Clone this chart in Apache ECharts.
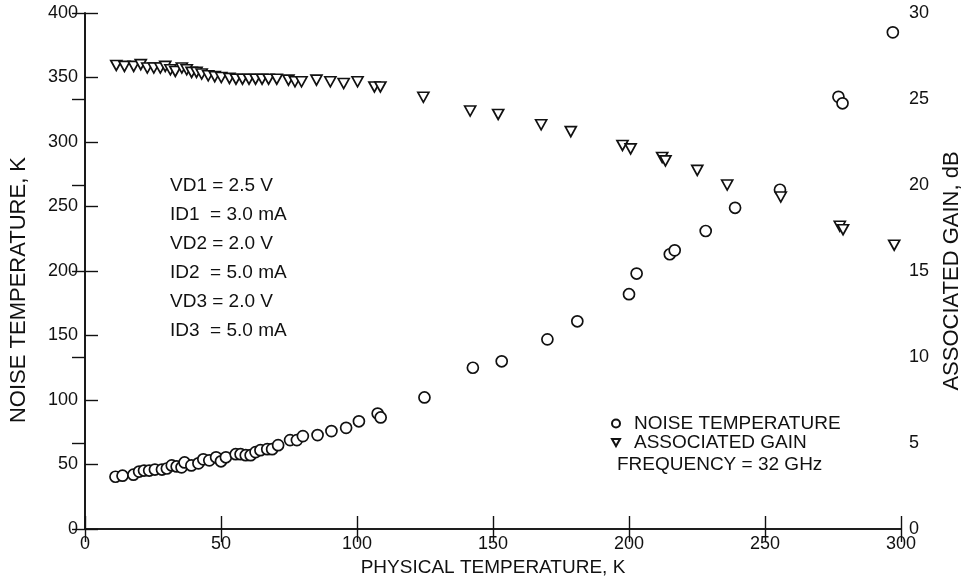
<!DOCTYPE html>
<html>
<head>
<meta charset="utf-8">
<script src="https://cdn.jsdelivr.net/npm/echarts@6/dist/echarts.min.js"></script>
<style>
  html, body { margin: 0; padding: 0; background: #fff; }
  #main { width: 971px; height: 588px; }
</style>
</head>
<body>
<div id="main"></div>
<script>
var FONT = '"Liberation Sans", Arial, sans-serif';
var INK = '#111';

// physical temperature (K) vs noise temperature (K)
var noiseT = [11.2, 13.8, 17.8, 19.9, 21.7, 23.6, 25.7, 28.3, 30.1, 31.9, 33.7, 35.5, 36.6, 39.1, 41.7, 43.5,
    45.7, 48.2, 50.0, 51.8, 55.4, 57.2, 59.1, 60.9, 62.7, 64.5, 67.0, 68.8, 71.0, 75.4, 77.9, 80.1, 85.5,
    90.6, 96.0, 100.7, 107.6, 108.7, 124.8, 142.6, 153.2, 170.0, 181.0, 200.0, 202.8, 215.0, 216.8, 228.2,
    239.0, 255.5, 277.0, 278.5, 297.0];
var noiseK = [40.5, 41.3, 42.1, 44.5, 45.3, 45.3, 46.1, 46.1, 46.9, 49.3, 48.5, 47.8, 51.6, 49.3, 50.9, 54.0,
    53.2, 55.6, 52.5, 55.6, 58.0, 58.0, 57.2, 57.2, 59.6, 61.1, 61.9, 61.9, 65.0, 68.9, 68.9, 72.0, 72.8,
    75.9, 78.4, 83.5, 89.5, 86.5, 102, 125, 130, 147, 161, 182, 198, 213, 216, 231,
    249, 263, 335, 330, 385];

// physical temperature (K) vs associated gain (dB)
var gainT = [11.5, 14.5, 17.9, 20.5, 22.9, 25.3, 27.7, 29.5, 31.4, 33.2, 35.6, 37.4, 39.2, 41.0, 42.9, 45.3,
    47.7, 50.1, 53.1, 55.5, 57.9, 60.3, 62.7, 65.1, 67.5, 70.5, 74.8, 77.2, 79.6, 85.1, 90.2, 95.1, 100.2,
    106.4, 108.6, 124.4, 141.6, 151.9, 167.7, 178.6, 197.6, 200.6, 212.2, 213.4, 225.1, 236.1, 255.8,
    277.5, 278.7, 297.5];
var gainDb = [26.95, 26.9, 26.9, 27.0, 26.8, 26.8, 26.8, 26.9, 26.7, 26.6, 26.8, 26.7, 26.55, 26.55, 26.45, 26.35,
    26.3, 26.25, 26.2, 26.15, 26.15, 26.15, 26.15, 26.15, 26.15, 26.15, 26.1, 26.0, 26.0, 26.1, 26.0, 25.9, 26.0,
    25.7, 25.7, 25.1, 24.3, 24.1, 23.5, 23.1, 22.3, 22.1, 21.6, 21.4, 20.85, 20.0, 19.3,
    17.6, 17.4, 16.5];

var biasLines = ['VD1 = 2.5 V', 'ID1  = 3.0 mA', 'VD2 = 2.0 V', 'ID2  = 5.0 mA', 'VD3 = 2.0 V', 'ID3  = 5.0 mA'];
var freqText = 'FREQUENCY = 32 GHz';

function pairs(xs, ys) {
    return xs.map(function (x, i) { return [x, ys[i]]; });
}

var downTriangle = 'path://M0,0 L10,0 L5,9 Z';

var chart = echarts.init(document.getElementById('main'), null, { renderer: 'canvas' });

var axisCommon = {
    axisLine: { show: true, lineStyle: { color: INK, width: 1.6 } },
    axisTick: { show: true, inside: true, length: 13, lineStyle: { color: INK, width: 1.4 } },
    splitLine: { show: false },
    axisLabel: { color: INK, fontSize: 18, fontFamily: FONT },
    nameTextStyle: { color: INK, fontSize: 19, fontFamily: FONT }
};

var option = {
    backgroundColor: '#fff',
    animation: false,
    grid: { left: 79, right: 62, top: 13, bottom: 59, containLabel: false },
    legend: {
        orient: 'vertical',
        left: 606,
        top: 409,
        itemWidth: 8,
        itemHeight: 8,
        itemGap: 0,
        textStyle: { color: INK, fontSize: 19, fontFamily: FONT, lineHeight: 17, padding: [0, 0, 0, 9] },
        data: ['NOISE TEMPERATURE', 'ASSOCIATED GAIN']
    },
    xAxis: [
        Object.assign({}, axisCommon, {
            type: 'value', position: 'bottom', min: 0, max: 300, interval: 50,
            name: 'PHYSICAL TEMPERATURE, K', nameLocation: 'middle', nameGap: 23,
            axisLabel: Object.assign({}, axisCommon.axisLabel, { margin: 6 })
        }),
        Object.assign({}, axisCommon, {
            type: 'value', position: 'top', min: 0, max: 300, interval: 50,
            axisLabel: { show: false }
        })
    ],
    yAxis: [
        Object.assign({}, axisCommon, {
            type: 'value', position: 'left', min: 0, max: 400, interval: 50,
            name: 'NOISE TEMPERATURE, K', nameLocation: 'middle', nameGap: 55,
            nameTextStyle: Object.assign({}, axisCommon.nameTextStyle, { fontSize: 22, padding: [0, 38, 0, 0] }),
            axisLabel: Object.assign({}, axisCommon.axisLabel, { margin: 7 })
        }),
        Object.assign({}, axisCommon, {
            type: 'value', position: 'right', min: 0, max: 30, interval: 5,
            name: 'ASSOCIATED GAIN, dB', nameLocation: 'middle', nameGap: 40,
            nameTextStyle: Object.assign({}, axisCommon.nameTextStyle, { fontSize: 22 }),
            axisLabel: Object.assign({}, axisCommon.axisLabel, { margin: 8 })
        })
    ],
    graphic: [
        {
            type: 'text', left: 170, top: 171,
            style: { text: biasLines.join('\n'), font: '19px ' + FONT, fill: INK, lineHeight: 29 }
        },
        {
            type: 'text', left: 617, top: 455,
            style: { text: freqText, font: '19px ' + FONT, fill: INK }
        }
    ],
    series: [
        {
            name: 'NOISE TEMPERATURE',
            type: 'scatter',
            xAxisIndex: 0,
            yAxisIndex: 0,
            symbol: 'circle',
            symbolSize: 11,
            itemStyle: { color: '#fff', borderColor: INK, borderWidth: 1.7, opacity: 1 },
            data: pairs(noiseT, noiseK)
        },
        {
            name: 'ASSOCIATED GAIN',
            type: 'scatter',
            xAxisIndex: 0,
            yAxisIndex: 1,
            symbol: downTriangle,
            symbolSize: [11, 10],
            itemStyle: { color: '#fff', borderColor: INK, borderWidth: 1.7, opacity: 1 },
            data: pairs(gainT, gainDb)
        }
    ]
};

chart.setOption(option);
window.addEventListener('resize', chart.resize);
</script>
</body>
</html>
